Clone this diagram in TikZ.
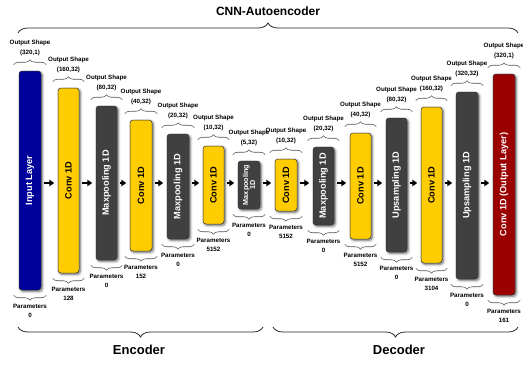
\documentclass[tikz,border=0pt]{standalone}
\usepackage{fontspec}
\setmainfont{Liberation Sans}
\usetikzlibrary{decorations.pathreplacing,arrows.meta,shadows.blur,calc}
\definecolor{inblue}{HTML}{00009A}
\definecolor{cyel}{HTML}{FFCC00}
\definecolor{cdark}{HTML}{404040}
\definecolor{cred}{HTML}{9A0000}
\definecolor{bracegray}{HTML}{555555}
\begin{document}
\begin{tikzpicture}[x=1pt,y=-1pt,
  bar/.style={rounded corners=3pt, draw=black!80, line width=0.5pt, inner sep=0pt,
    blur shadow={shadow xshift=1.3pt, shadow yshift=-1.3pt, shadow blur steps=6, shadow blur radius=2.5pt, shadow opacity=60}},
  bartext/.style={rotate=90, inner sep=0pt, align=center},
  lbl/.style={font=\bfseries\fontsize{6.2}{7}\selectfont, inner sep=0pt},
  sbrace/.style={draw=bracegray, line width=0.6pt, decorate, decoration={brace, amplitude=5pt}},
  sbraceb/.style={draw=bracegray, line width=0.6pt, decorate, decoration={brace, amplitude=5pt, mirror}},
  bbrace/.style={draw=black!85, line width=0.8pt, decorate, decoration={brace, amplitude=10pt}},
  bbraceb/.style={draw=black!85, line width=0.8pt, decorate, decoration={brace, amplitude=10pt, mirror}},
  arr/.style={-{Triangle[length=5pt,width=6.5pt]}, line width=1.6pt, shorten <=3pt, shorten >=3.5pt},
  bigtext/.style={font=\bfseries\fontsize{13}{15}\selectfont, inner sep=0pt}]
\useasboundingbox (0,0) rectangle (523,365);

\foreach \n/\xa/\xb/\yt/\yb/\fc/\tc/\fs/\txt/\os/\pa in {
 1/19/41/71/290/inblue/white/9.2/{Input Layer}/{(320,1)}/0,
 2/58/79/88/273/cyel/black/9.2/{Conv 1D}/{(160,32)}/128,
 3/96/117/106/260/cdark/white/9.2/{Maxpooling 1D}/{(80,32)}/0,
 4/130/152/120/251/cyel/black/9.2/{Conv 1D}/{(40,32)}/152,
 5/167/189/134/239/cdark/white/9.2/{Maxpooling 1D}/{(20,32)}/0,
 6/203/224/146/224/cyel/black/9.2/{Conv 1D}/{(10,32)}/5152,
 7/238/260/161/209/cdark/white/7.2/{Maxpooling\\1D}/{(5,32)}/0,
 8/275/297/159/211/cyel/black/9.2/{Conv 1D}/{(10,32)}/5152,
 9/313/334/147/225/cdark/white/9.2/{Maxpooling 1D}/{(20,32)}/0,
 10/350/371/133/239/cyel/black/9.2/{Conv 1D}/{(40,32)}/5152,
 11/386/407/118/252/cdark/white/9.2/{Upsampling 1D}/{(80,32)}/0,
 12/421/442/107/263/cyel/black/9.2/{Conv 1D}/{(160,32)}/3104,
 13/456/478/92/279/cdark/white/9.2/{Upsampling 1D}/{(320,32)}/0,
 14/493/515/74/295/cred/white/9.2/{Conv 1D (Output Layer)}/{(320,1)}/161}
{
  \pgfmathsetmacro\w{\xb-\xa}
  \pgfmathsetmacro\h{\yb-\yt}
  \node[bar, fill=\fc, minimum width=\w pt, minimum height=\h pt] (b\n) at ({(\xa+\xb)/2},{(\yt+\yb)/2}) {};
  \node[bartext, text=\tc, font=\bfseries\fontsize{\fs}{\fs}\selectfont] (t\n) at (b\n.center) {\txt};
  \draw[sbrace] ([xshift=-5pt,yshift=6pt]b\n.north west) -- ([xshift=5pt,yshift=6pt]b\n.north east);
  \node[lbl] (os\n) at ([yshift=27.5pt]b\n.north) {Output Shape};
  \node[lbl] (ov\n) at ([yshift=17.5pt]b\n.north) {\os};
  \draw[sbraceb] ([xshift=-5pt,yshift=-5pt]b\n.south west) -- ([xshift=5pt,yshift=-5pt]b\n.south east);
  \node[lbl] (pp\n) at ([yshift=-16pt]b\n.south) {Parameters};
  \node[lbl] (pv\n) at ([yshift=-25pt]b\n.south) {\pa};
}

\coordinate (ay) at (0,183);
\foreach \i [evaluate=\i as \j using int(\i+1)] in {1,...,13}
  \draw[arr] (b\i.east |- ay) -- (b\j.west |- ay);

\draw[bbrace] (18,33) -- (518,33);
\node[bigtext, font=\bfseries\fontsize{12}{14}\selectfont] (title) at (268,11) {CNN-Autoencoder};
\draw[bbraceb] (18,327) -- (263,327);
\draw[bbraceb] (273,327) -- (518,327);
\node[bigtext] (enc) at (139,350) {Encoder};
\node[bigtext] (dec) at (399,350) {Decoder};
\end{tikzpicture}
\end{document}
